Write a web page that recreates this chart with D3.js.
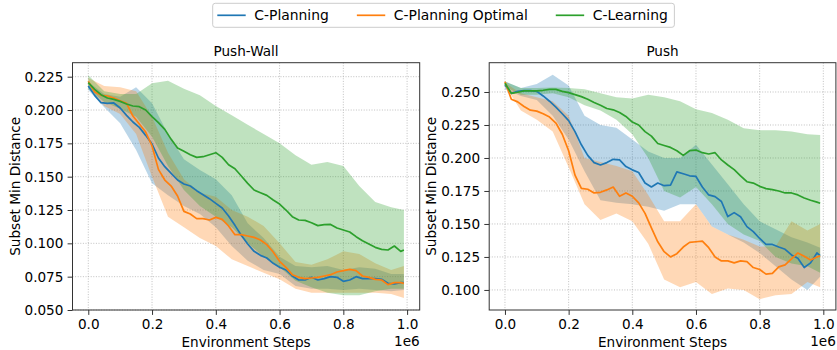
<!DOCTYPE html>
<html>
<head>
<meta charset="utf-8">
<script src="https://cdn.jsdelivr.net/npm/d3@7/dist/d3.min.js"></script>
<style>
  body { margin: 0; background: #fff; }
  svg { display: block; font-family: "DejaVu Sans", sans-serif; }
</style>
</head>
<body>
<svg id="chart" width="837" height="350"></svg>
<script>
// x values in units of 1e6 environment steps
const lineSteps = [0, 0.02, 0.04, 0.06, 0.08, 0.10, 0.12, 0.14, 0.16, 0.18, 0.20, 0.22, 0.24, 0.26, 0.28, 0.30, 0.32, 0.34, 0.36, 0.38, 0.40, 0.42, 0.44, 0.46, 0.48, 0.50, 0.52, 0.54, 0.56, 0.58, 0.60, 0.62, 0.64, 0.66, 0.68, 0.70, 0.72, 0.74, 0.76, 0.78, 0.80, 0.82, 0.84, 0.86, 0.88, 0.90, 0.92, 0.94, 0.96, 0.98, 0.99]
const bandSteps = [0, 0.05, 0.10, 0.15, 0.20, 0.25, 0.30, 0.35, 0.40, 0.45, 0.50, 0.55, 0.60, 0.65, 0.70, 0.75, 0.80, 0.85, 0.90, 0.95, 0.99]

const seriesNames = ['C-Planning', 'C-Planning Optimal', 'C-Learning']
const seriesColors = ['#1f77b4', '#ff7f0e', '#2ca02c']

// Push-Wall
const pushWallPlan = [0.218, 0.211, 0.2055, 0.205, 0.2053, 0.2015, 0.196, 0.191, 0.187, 0.181, 0.1745, 0.164, 0.1575, 0.1525, 0.1475, 0.1445, 0.143, 0.1395, 0.1365, 0.1335, 0.130, 0.1265, 0.1205, 0.1135, 0.106, 0.0995, 0.094, 0.091, 0.089, 0.085, 0.082, 0.080, 0.0755, 0.0725, 0.0725, 0.0745, 0.0725, 0.0735, 0.075, 0.0745, 0.0715, 0.0725, 0.075, 0.0735, 0.0735, 0.0735, 0.073, 0.070, 0.0695, 0.0705, 0.0705]
const pushWallOpt = [0.2215, 0.2135, 0.211, 0.2105, 0.209, 0.207, 0.205, 0.1955, 0.1895, 0.1835, 0.173, 0.1555, 0.1475, 0.143, 0.1355, 0.124, 0.122, 0.1185, 0.1185, 0.1175, 0.1195, 0.118, 0.113, 0.1065, 0.1065, 0.1055, 0.1045, 0.1025, 0.099, 0.0935, 0.0865, 0.082, 0.0765, 0.0745, 0.0735, 0.074, 0.0745, 0.0755, 0.0765, 0.0785, 0.0795, 0.0805, 0.0795, 0.0755, 0.0745, 0.073, 0.0725, 0.069, 0.0705, 0.0705, 0.070]
const pushWallLearn = [0.2205, 0.2155, 0.2115, 0.209, 0.208, 0.2065, 0.2045, 0.203, 0.2025, 0.200, 0.195, 0.1905, 0.1855, 0.178, 0.1715, 0.169, 0.1665, 0.1645, 0.165, 0.1665, 0.168, 0.1645, 0.159, 0.156, 0.1505, 0.145, 0.140, 0.138, 0.136, 0.1325, 0.1295, 0.125, 0.120, 0.1175, 0.1172, 0.1155, 0.1133, 0.114, 0.1142, 0.1115, 0.110, 0.1085, 0.105, 0.102, 0.0995, 0.097, 0.0955, 0.095, 0.098, 0.094, 0.095]
const pushWallPlanLo = [0.215, 0.202, 0.190, 0.170, 0.145, 0.136, 0.128, 0.122, 0.112, 0.098, 0.087, 0.080, 0.077, 0.068, 0.066, 0.066, 0.065, 0.066, 0.065, 0.064, 0.065]
const pushWallPlanHi = [0.221, 0.212, 0.210, 0.217, 0.205, 0.182, 0.163, 0.155, 0.148, 0.136, 0.115, 0.104, 0.090, 0.083, 0.082, 0.083, 0.080, 0.082, 0.081, 0.077, 0.077]
const pushWallOptLo = [0.218, 0.203, 0.197, 0.182, 0.150, 0.120, 0.112, 0.104, 0.098, 0.088, 0.083, 0.078, 0.073, 0.066, 0.063, 0.063, 0.063, 0.063, 0.063, 0.062, 0.059]
const pushWallOptHi = [0.224, 0.218, 0.217, 0.214, 0.195, 0.168, 0.148, 0.138, 0.135, 0.125, 0.120, 0.113, 0.100, 0.086, 0.084, 0.088, 0.094, 0.092, 0.085, 0.080, 0.083]
const pushWallLearnLo = [0.216, 0.206, 0.201, 0.195, 0.180, 0.158, 0.140, 0.128, 0.120, 0.112, 0.100, 0.090, 0.082, 0.072, 0.067, 0.063, 0.061, 0.061, 0.064, 0.066, 0.066]
const pushWallLearnHi = [0.226, 0.214, 0.212, 0.212, 0.220, 0.222, 0.216, 0.211, 0.203, 0.196, 0.189, 0.182, 0.175, 0.166, 0.159, 0.161, 0.158, 0.143, 0.131, 0.127, 0.125]

// Push
const pushPlan = [0.2555, 0.249, 0.2505, 0.251, 0.251, 0.2505, 0.247, 0.243, 0.2385, 0.2335, 0.2283, 0.220, 0.210, 0.202, 0.1965, 0.1947, 0.1965, 0.199, 0.1985, 0.1935, 0.191, 0.189, 0.181, 0.178, 0.181, 0.179, 0.1795, 0.1895, 0.188, 0.1865, 0.186, 0.178, 0.172, 0.1707, 0.167, 0.1556, 0.1586, 0.1555, 0.148, 0.1442, 0.139, 0.1345, 0.1345, 0.1325, 0.1308, 0.1265, 0.124, 0.117, 0.1205, 0.128, 0.126]
const pushOpt = [0.2578, 0.2445, 0.2425, 0.239, 0.2362, 0.2355, 0.2335, 0.231, 0.2265, 0.218, 0.2055, 0.187, 0.177, 0.1763, 0.1735, 0.174, 0.1758, 0.178, 0.171, 0.1735, 0.171, 0.166, 0.158, 0.147, 0.1365, 0.129, 0.125, 0.1275, 0.1325, 0.136, 0.1365, 0.137, 0.132, 0.125, 0.122, 0.122, 0.1205, 0.122, 0.1215, 0.117, 0.1155, 0.112, 0.1125, 0.1175, 0.119, 0.1235, 0.128, 0.1255, 0.1227, 0.125, 0.1258]
const pushLearn = [0.2566, 0.249, 0.2498, 0.2508, 0.2508, 0.2508, 0.2513, 0.252, 0.252, 0.2505, 0.2495, 0.248, 0.2465, 0.2445, 0.242, 0.240, 0.2375, 0.2365, 0.2345, 0.2315, 0.2272, 0.225, 0.220, 0.2166, 0.211, 0.2095, 0.208, 0.2055, 0.202, 0.2055, 0.206, 0.204, 0.203, 0.204, 0.1985, 0.1947, 0.1912, 0.1865, 0.182, 0.181, 0.1785, 0.1768, 0.176, 0.175, 0.1735, 0.1735, 0.172, 0.1697, 0.168, 0.1665, 0.1657]
const pushPlanLo = [0.252, 0.247, 0.244, 0.232, 0.214, 0.190, 0.168, 0.166, 0.165, 0.163, 0.160, 0.165, 0.165, 0.148, 0.142, 0.136, 0.128, 0.118, 0.108, 0.100, 0.110]
const pushPlanHi = [0.258, 0.253, 0.256, 0.263, 0.255, 0.232, 0.225, 0.223, 0.214, 0.205, 0.200, 0.200, 0.210, 0.195, 0.180, 0.165, 0.152, 0.146, 0.140, 0.136, 0.132]
const pushOptLo = [0.255, 0.236, 0.229, 0.220, 0.193, 0.165, 0.153, 0.158, 0.152, 0.135, 0.108, 0.102, 0.106, 0.097, 0.101, 0.100, 0.093, 0.096, 0.097, 0.106, 0.102]
const pushOptHi = [0.257, 0.249, 0.246, 0.243, 0.232, 0.200, 0.197, 0.194, 0.190, 0.172, 0.152, 0.152, 0.165, 0.148, 0.142, 0.138, 0.133, 0.133, 0.152, 0.145, 0.150]
const pushLearnLo = [0.254, 0.248, 0.248, 0.249, 0.246, 0.240, 0.236, 0.229, 0.218, 0.200, 0.175, 0.170, 0.178, 0.165, 0.150, 0.142, 0.137, 0.125, 0.120, 0.118, 0.113]
const pushLearnHi = [0.258, 0.253, 0.253, 0.2535, 0.253, 0.252, 0.249, 0.246, 0.245, 0.248, 0.246, 0.243, 0.237, 0.234, 0.229, 0.2225, 0.221, 0.221, 0.220, 0.218, 0.2175]

const xTicks = [0, 0.2, 0.4, 0.6, 0.8, 1.0]
const pushWallYTicks = [0.050, 0.075, 0.100, 0.125, 0.150, 0.175, 0.200, 0.225]
const pushYTicks = [0.100, 0.125, 0.150, 0.175, 0.200, 0.225, 0.250]

const panels = [
    {
        title: 'Push-Wall', left: 72.5, right: 419.7, yDomain: [0.05, 0.2355], yTicks: pushWallYTicks, yLabelX: 19.5,
        means: [pushWallPlan, pushWallOpt, pushWallLearn],
        los: [pushWallPlanLo, pushWallOptLo, pushWallLearnLo],
        his: [pushWallPlanHi, pushWallOptHi, pushWallLearnHi]
    },
    {
        title: 'Push', left: 489.2, right: 835.9, yDomain: [0.0848, 0.2722], yTicks: pushYTicks, yLabelX: 436,
        means: [pushPlan, pushOpt, pushLearn],
        los: [pushPlanLo, pushOptLo, pushLearnLo],
        his: [pushPlanHi, pushOptHi, pushLearnHi]
    }
]

const plotTop = 62.7, plotBottom = 310
const fontSize = 13.6
const svg = d3.select('#chart')

panels.forEach(function (p) {
    const x = d3.scaleLinear().domain([-0.0495, 1.0395]).range([p.left, p.right])
    const y = d3.scaleLinear().domain(p.yDomain).range([plotBottom, plotTop])
    const g = svg.append('g')

    // grid
    g.append('g').selectAll('line').data(xTicks).join('line')
        .attr('x1', d => x(d)).attr('x2', d => x(d))
        .attr('y1', plotTop).attr('y2', plotBottom)
        .attr('stroke', '#b0b0b0').attr('stroke-width', 0.8)
        .attr('stroke-dasharray', '1,1.6')
    g.append('g').selectAll('line').data(p.yTicks).join('line')
        .attr('x1', p.left).attr('x2', p.right)
        .attr('y1', d => y(d)).attr('y2', d => y(d))
        .attr('stroke', '#b0b0b0').attr('stroke-width', 0.8)
        .attr('stroke-dasharray', '1,1.6')

    // bands first, lines on top
    const area = d3.area()
        .x((d, i) => x(bandSteps[i]))
        .y0(d => y(d[0]))
        .y1(d => y(d[1]))
    p.los.forEach(function (lo, k) {
        g.append('path')
            .datum(lo.map((v, i) => [v, p.his[k][i]]))
            .attr('fill', seriesColors[k])
            .attr('fill-opacity', 0.3)
            .attr('d', area)
    })
    const line = d3.line()
        .x((d, i) => x(lineSteps[i]))
        .y(d => y(d))
    p.means.forEach(function (m, k) {
        g.append('path')
            .datum(m)
            .attr('fill', 'none')
            .attr('stroke', seriesColors[k])
            .attr('stroke-width', 1.7)
            .attr('stroke-linejoin', 'round')
            .attr('d', line)
    })

    // axes
    const xAxis = g.append('g')
        .attr('transform', 'translate(0,' + plotBottom + ')')
        .call(d3.axisBottom(x).tickValues(xTicks).tickFormat(d3.format('.1f')).tickSizeInner(4.9).tickSizeOuter(0).tickPadding(4.4))
    const yAxis = g.append('g')
        .attr('transform', 'translate(' + p.left + ',0)')
        .call(d3.axisLeft(y).tickValues(p.yTicks).tickFormat(d3.format('.3f')).tickSizeInner(4.9).tickSizeOuter(0).tickPadding(4.2))
    ;[xAxis, yAxis].forEach(function (a) {
        a.select('.domain').remove()
        a.selectAll('line').attr('stroke', '#333').attr('stroke-width', 1)
        a.selectAll('text').attr('fill', '#000').style('font-size', fontSize + 'px').style('font-family', '"DejaVu Sans", sans-serif')
    })

    // frame
    g.append('rect')
        .attr('x', p.left).attr('y', plotTop)
        .attr('width', p.right - p.left).attr('height', plotBottom - plotTop)
        .attr('fill', 'none').attr('stroke', '#333').attr('stroke-width', 1)

    // texts
    g.append('text')
        .attr('x', (p.left + p.right) / 2).attr('y', 56)
        .attr('text-anchor', 'middle').style('font-size', fontSize + 'px')
        .text(p.title)
    g.append('text')
        .attr('x', (p.left + p.right) / 2).attr('y', 346.5)
        .attr('text-anchor', 'middle').style('font-size', fontSize + 'px')
        .text('Environment Steps')
    g.append('text')
        .attr('x', p.right).attr('y', 345.5)
        .attr('text-anchor', 'end').style('font-size', fontSize + 'px')
        .text('1e6')
    g.append('text')
        .attr('transform', 'translate(' + p.yLabelX + ',' + (plotTop + plotBottom) / 2 + ') rotate(-90)')
        .attr('text-anchor', 'middle').style('font-size', fontSize + 'px')
        .text('Subset Min Distance')
})

// legend
const legend = svg.append('g')
const legendBox = legend.append('rect')
    .attr('x', 212.7).attr('y', 3.3).attr('height', 24).attr('rx', 2.5)
    .attr('fill', '#fff').attr('fill-opacity', 0.8)
    .attr('stroke', '#cccccc').attr('stroke-width', 1)
let cursor = 217.3
seriesNames.forEach(function (name, k) {
    legend.append('line')
        .attr('x1', cursor).attr('x2', cursor + 28.4)
        .attr('y1', 15.3).attr('y2', 15.3)
        .attr('stroke', seriesColors[k]).attr('stroke-width', 1.7)
    const t = legend.append('text')
        .attr('x', cursor + 37).attr('y', 20.2)
        .style('font-size', '13.9px')
        .text(name)
    cursor = cursor + 37 + t.node().getComputedTextLength() + 28
})
legendBox.attr('width', cursor - 28 + 6.6 - 212.7)
</script>
</body>
</html>
